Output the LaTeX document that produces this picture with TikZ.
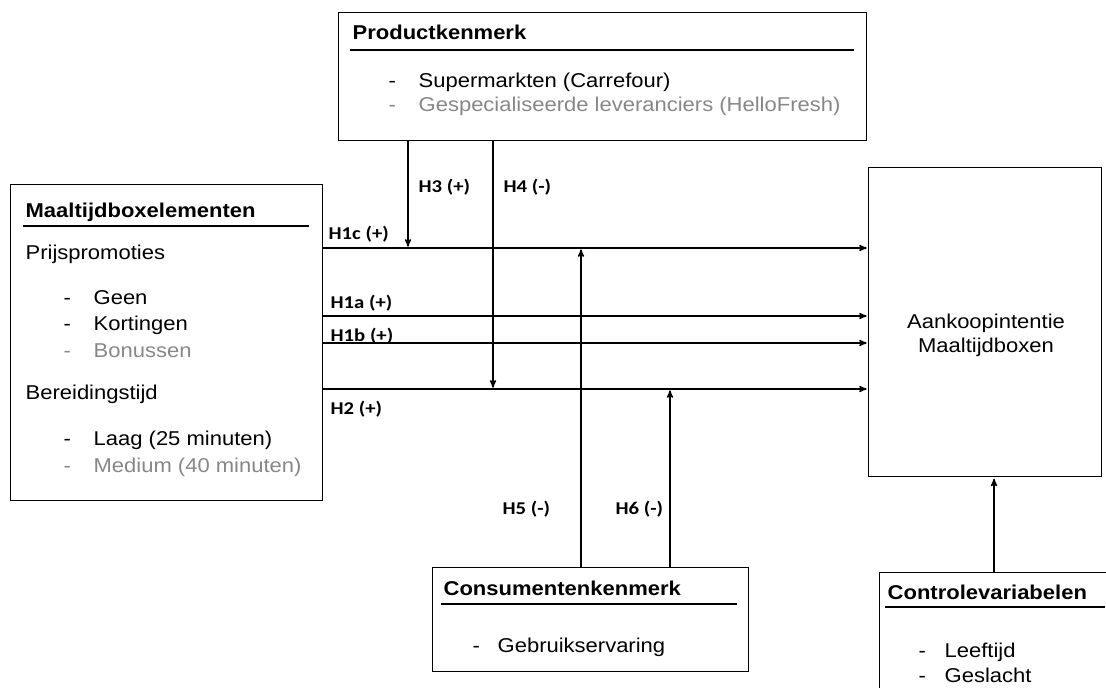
\documentclass[tikz,border=0pt]{standalone}
\usepackage{fontspec}
\setmainfont[FakeStretch=1.1]{Liberation Sans}
\newfontfamily\hfont[FakeStretch=1.15]{Carlito}
\usetikzlibrary{arrows}
\definecolor{greytext}{RGB}{135,135,135}

\begin{document}
\begin{tikzpicture}[x=0.75pt,y=-0.75pt,->,>=stealth',shorten >=1pt,
	line width=1pt,
	box/.style={draw,rectangle,anchor=north west,inner sep=0pt},
	txt/.style={anchor=base west,inner sep=0pt,font=\fontsize{15}{18}\selectfont},
	head/.style={txt,font=\fontsize{15}{18}\selectfont\bfseries},
	grey/.style={txt,text=greytext},
	hyp/.style={anchor=base west,inner sep=0pt,font=\hfont\fontsize{13.5}{15}\selectfont\bfseries}]
	
	\clip (0,0) rectangle (1106,688);
	
	% boxes
	\node[box,minimum width=396pt,minimum height=96pt] (prod) at (338,12) {};
	\node[box,minimum width=234pt,minimum height=237pt] (maal) at (10,184) {};
	\node[box,minimum width=174.75pt,minimum height=231.75pt] (aank) at (868,167) {};
	\node[box,minimum width=237pt,minimum height=78pt] (cons) at (432,567) {};
	\node[box,minimum width=190pt,minimum height=100pt] (ctrl) at (879,572) {};
	
	% Productkenmerk
	\node[head] (prodtitle) at (352,40) {Productkenmerk};
	\draw[-] (350,50) -- (855,50);
	\node[txt] (d1) at (388,88) {-};
	\node[txt] (super) at (418,88) {Supermarkten (Carrefour)};
	\node[grey] (d2) at (388,112) {-};
	\node[grey] (spec) at (418,112) {Gespecialiseerde leveranciers (HelloFresh)};
	
	% Maaltijdboxelementen
	\node[head] (maaltitle) at (25,217) {Maaltijdboxelementen};
	\draw[-] (23,226) -- (310,226);
	\node[txt] (prijs) at (25,259) {Prijspromoties};
	\node[txt] (d3) at (63,304) {-};
	\node[txt] (geen) at (93,304) {Geen};
	\node[txt] (d4) at (63,330) {-};
	\node[txt] (kort) at (93,330) {Kortingen};
	\node[grey] (d5) at (63,357) {-};
	\node[grey] (bonus) at (93,357) {Bonussen};
	\node[txt] (bereid) at (25,399) {Bereidingstijd};
	\node[txt] (d6) at (63,445) {-};
	\node[txt] (laag) at (93,445) {Laag (25 minuten)};
	\node[grey] (d7) at (63,472) {-};
	\node[grey] (medium) at (93,472) {Medium (40 minuten)};
	
	% Aankoopintentie
	\node[txt,anchor=base] (aank1) at (986,328) {Aankoopintentie};
	\node[txt,anchor=base] (aank2) at (986,352) {Maaltijdboxen};
	
	% Consumentenkenmerk
	\node[head] (constitle) at (443,595) {Consumentenkenmerk};
	\draw[-] (441,604) -- (738,604);
	\node[txt] (d8) at (472,652) {-};
	\node[txt] (gebruik) at (497,652) {Gebruikservaring};
	
	% Controlevariabelen
	\node[head] (ctrltitle) at (887,599) {Controlevariabelen};
	\draw[-] (885,607) -- (1106,607);
	\node[txt] (d9) at (918,657) {-};
	\node[txt] (leeftijd) at (944,657) {Leeftijd};
	\node[txt] (d10) at (918,682) {-};
	\node[txt] (geslacht) at (944,682) {Geslacht};
	
	% line heights and columns
	\coordinate (y1c) at (0,248);
	\coordinate (y1a) at (0,316);
	\coordinate (y1b) at (0,343);
	\coordinate (y2) at (0,389);
	\coordinate (x3) at (408,0);
	\coordinate (x4) at (493,0);
	\coordinate (x5) at (581,0);
	\coordinate (x6) at (670,0);
	\coordinate (xc) at (994,0);
	
	\path
	(maal.east |- y1c) edge (aank.west |- y1c)
	(maal.east |- y1a) edge (aank.west |- y1a)
	(maal.east |- y1b) edge (aank.west |- y1b)
	(maal.east |- y2) edge (aank.west |- y2)
	(prod.south -| x3) edge (x3 |- y1c)
	(prod.south -| x4) edge (x4 |- y2)
	(cons.north -| x5) edge (x5 |- y1c)
	(cons.north -| x6) edge (x6 |- y2)
	(ctrl.north -| xc) edge (aank.south -| xc);
	
	% hypotheses
	\node[hyp] (h3) at (418,193) {H3 (+)};
	\node[hyp] (h4) at (503,193) {H4 (-)};
	\node[hyp] (h1c) at (328,239) {H1c (+)};
	\node[hyp] (h1a) at (330,308) {H1a (+)};
	\node[hyp] (h1b) at (330,341) {H1b (+)};
	\node[hyp] (h2) at (330,414) {H2 (+)};
	\node[hyp] (h5) at (502,514) {H5 (-)};
	\node[hyp] (h6) at (615,514) {H6 (-)};
\end{tikzpicture}
\end{document}
